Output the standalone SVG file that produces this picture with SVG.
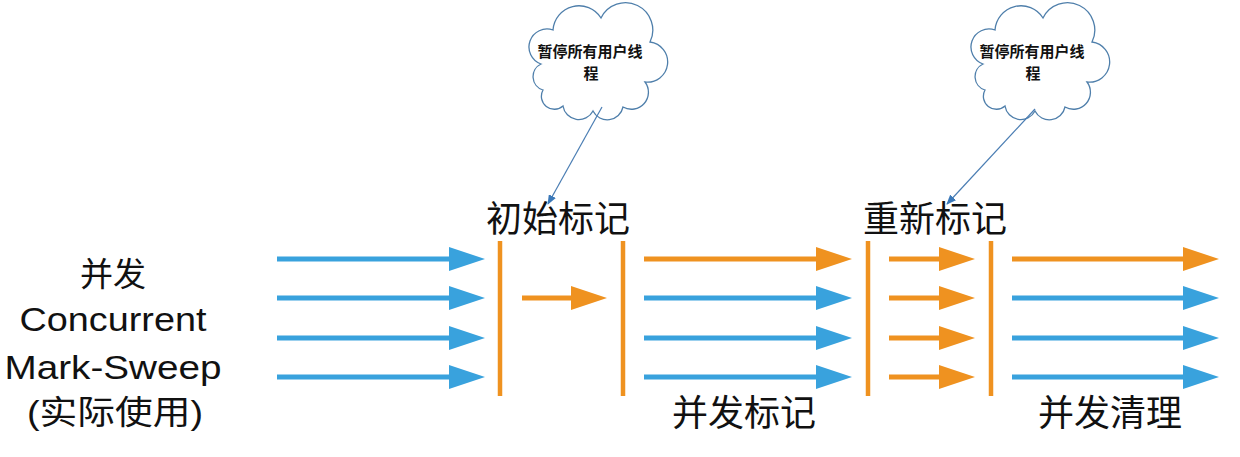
<svg xmlns="http://www.w3.org/2000/svg" width="1240" height="457" viewBox="0 0 1240 457">
<style>
.bg{fill:#ffffff}
.cloud{fill:#ffffff;stroke:#4f7fab;stroke-width:1.3}
.ctext{font-family:"Noto Sans CJK SC",sans-serif;font-weight:bold;font-size:15px;fill:#111;text-anchor:middle}
.phase{font-family:"Noto Sans CJK SC",sans-serif;font-size:36px;fill:#111}
.left{font-family:"Liberation Sans","Noto Sans CJK SC",sans-serif;font-size:33px;fill:#111;text-anchor:middle}
.bar{stroke:#ef9220;stroke-width:4.5}
.ab{stroke:#39a2dd;stroke-width:5;marker-end:url(#hb)}
.ao{stroke:#ef9220;stroke-width:5;marker-end:url(#ho)}
.conn{stroke:#4a7db3;stroke-width:1.2;fill:none;marker-end:url(#hc)}
</style>
<defs>
<marker id="hb" viewBox="0 0 36 24" markerWidth="36" markerHeight="24" refX="1" refY="12" orient="auto" markerUnits="userSpaceOnUse"><path d="M0,0 L36,12 L0,24 Z" fill="#39a2dd"/></marker>
<marker id="ho" viewBox="0 0 36 24" markerWidth="36" markerHeight="24" refX="1" refY="12" orient="auto" markerUnits="userSpaceOnUse"><path d="M0,0 L36,12 L0,24 Z" fill="#ef9220"/></marker>
<marker id="hc" viewBox="0 0 10 8" markerWidth="10" markerHeight="8" refX="9" refY="4" orient="auto" markerUnits="userSpaceOnUse"><path d="M0,0 L10,4 L0,8 Z" fill="#3a78b8"/></marker>
<path id="cloudshape" d="M 10 62 A 18 18 0 0 1 22 28 A 26 26 0 0 1 70 16 A 27 27 0 0 1 119 40 A 20 20 0 0 1 114 80 A 17 17 0 0 1 92 105 A 16 16 0 0 1 62 109 A 16 16 0 0 1 32 104 A 13 13 0 0 1 12 88 A 14 14 0 0 1 10 62 Z"/>
</defs>
<rect class="bg" x="0" y="0" width="1240" height="457"/>

<g id="left-label">
<text class="left" x="113" y="286" font-size="35">并发</text>
<text class="left" x="113" y="331" textLength="187" lengthAdjust="spacingAndGlyphs">Concurrent</text>
<text class="left" x="113" y="379" textLength="217" lengthAdjust="spacingAndGlyphs">Mark-Sweep</text>
<text class="left" x="115" y="424" textLength="176" lengthAdjust="spacingAndGlyphs">(实际使用)</text>
</g>

<g id="cloud-1">
<use href="#cloudshape" class="cloud" transform="translate(531,2)"/>
<text class="ctext" x="590" y="57">暂停所有用户线</text>
<text class="ctext" x="591" y="79">程</text>
</g>
<g id="cloud-2">
<use href="#cloudshape" class="cloud" transform="translate(973,2)"/>
<text class="ctext" x="1032" y="57">暂停所有用户线</text>
<text class="ctext" x="1033" y="79">程</text>
</g>

<g id="label-initial-mark"><text class="phase" x="486" y="232">初始标记</text></g>
<g id="label-remark"><text class="phase" x="863" y="232">重新标记</text></g>
<g id="label-concurrent-mark"><text class="phase" x="672" y="426">并发标记</text></g>
<g id="label-concurrent-sweep"><text class="phase" x="1038" y="426">并发清理</text></g>

<g id="bars">
<line class="bar" x1="500" y1="241" x2="500" y2="396"/>
<line class="bar" x1="623" y1="241" x2="623" y2="396"/>
<line class="bar" x1="868" y1="241" x2="868" y2="396"/>
<line class="bar" x1="991" y1="241" x2="991" y2="396"/>
</g>

<g id="connectors">
<line class="ab" x1="277" y1="259" x2="450" y2="259"/>
<line class="ab" x1="277" y1="298" x2="450" y2="298"/>
<line class="ab" x1="277" y1="338" x2="450" y2="338"/>
<line class="ab" x1="277" y1="377" x2="450" y2="377"/>

<line class="ao" x1="522" y1="298" x2="572" y2="298"/>

<line class="ao" x1="644" y1="259" x2="817" y2="259"/>
<line class="ab" x1="644" y1="298" x2="817" y2="298"/>
<line class="ab" x1="644" y1="338" x2="817" y2="338"/>
<line class="ab" x1="644" y1="377" x2="817" y2="377"/>

<line class="ao" x1="889" y1="259" x2="940" y2="259"/>
<line class="ao" x1="889" y1="298" x2="940" y2="298"/>
<line class="ao" x1="889" y1="338" x2="940" y2="338"/>
<line class="ao" x1="889" y1="377" x2="940" y2="377"/>

<line class="ao" x1="1012" y1="259" x2="1184" y2="259"/>
<line class="ab" x1="1012" y1="298" x2="1184" y2="298"/>
<line class="ab" x1="1012" y1="338" x2="1184" y2="338"/>
<line class="ab" x1="1012" y1="377" x2="1184" y2="377"/>

<line class="conn" x1="602" y1="107" x2="548" y2="204"/>
<line class="conn" x1="1035" y1="109" x2="947" y2="204"/>
</g>
</svg>
